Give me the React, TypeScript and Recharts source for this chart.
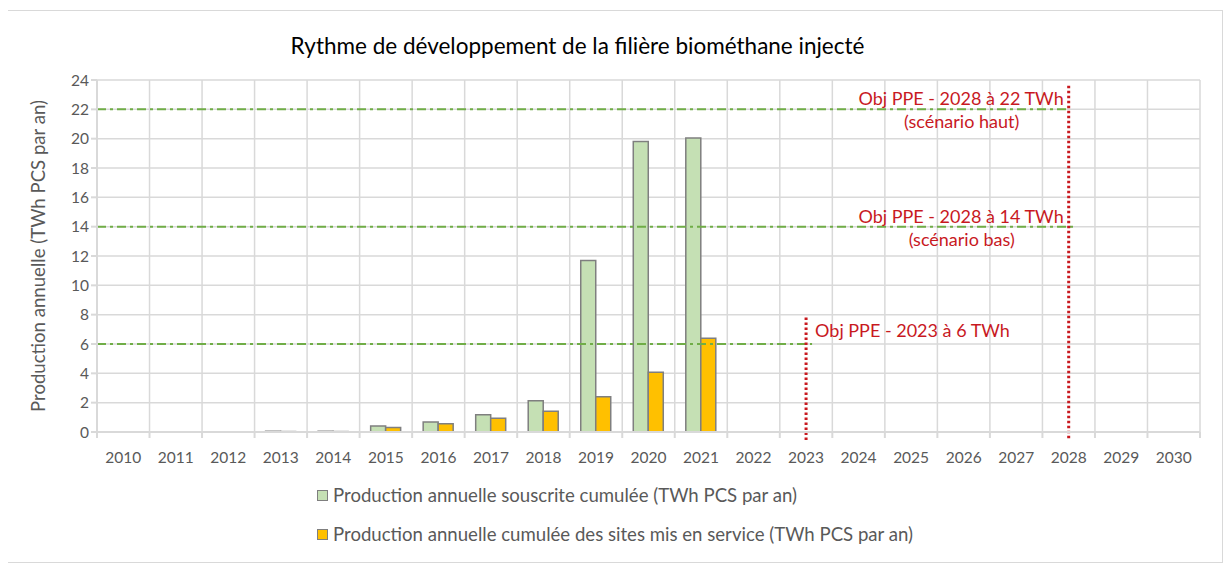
import React from "react";
import {
  BarChart,
  Bar,
  XAxis,
  YAxis,
  CartesianGrid,
  ReferenceLine,
  Legend,
  Label,
} from "recharts";

const years = [
  "2010", "2011", "2012", "2013", "2014", "2015", "2016", "2017", "2018", "2019", "2020",
  "2021", "2022", "2023", "2024", "2025", "2026", "2027", "2028", "2029", "2030",
];
const souscrite = [
  null, null, null, 0.05, 0.05, 0.41, 0.68, 1.18, 2.13, 11.7, 19.8,
  20.05, null, null, null, null, null, null, null, null, null,
];
const enService = [
  null, null, null, 0.03, 0.03, 0.3, 0.57, 0.93, 1.41, 2.41, 4.07,
  6.4, null, null, null, null, null, null, null, null, null,
];
const yTicks = [0, 2, 4, 6, 8, 10, 12, 14, 16, 18, 20, 22, 24];

const seriesNames = [
  "Production annuelle souscrite cumulée (TWh PCS par an)",
  "Production annuelle cumulée des sites mis en service (TWh PCS par an)",
];

const data = years.map((year, i) => ({
  year,
  souscrite: souscrite[i],
  enService: enService[i],
}));

const FONT = "Lato, 'Open Sans', sans-serif";
const GREY = "#595959";
const GRID = "#D9D9D9";
const RED = "#C8191F";
const GREEN_LINE = "#70AD47";

// horizontal objective line, drawn from the plot's left edge to the given year
const ObjLine = (props: any) => {
  const { x1, x2, y1, extraRight, lines, labelPos } = props;
  const band = props.bandCount ? (x2 - x1) / props.bandCount : 0;
  const left = x1 - band / 2;
  const right = x2 + (extraRight || 0);
  return (
    <g>
      <line
        x1={left}
        x2={right}
        y1={y1}
        y2={y1}
        stroke={GREEN_LINE}
        strokeWidth={2}
        strokeDasharray="9 4 3 4"
      />
      {labelPos === "right" ? (
        <text x={x2 + 9} y={y1 - 7} fill={RED} fontSize={18} fontFamily={FONT}>
          {lines[0]}
        </text>
      ) : (
        <g fontFamily={FONT} fontSize={18} fill={RED}>
          <text x={x2 - 5} y={y1 - 4} textAnchor="end">
            {lines[0]}
          </text>
          <text x={x2 - 107} y={y1 + 19} textAnchor="middle">
            {lines[1]}
          </text>
        </g>
      )}
    </g>
  );
};

const DotLine = (props: any) => {
  const { x1, y1, y2 } = props;
  const bottom = Math.max(y1, y2) + 8;
  const top = Math.min(y1, y2);
  return (
    <line
      x1={x1}
      x2={x1}
      y1={top}
      y2={bottom}
      stroke={RED}
      strokeWidth={3}
      strokeDasharray="2.5 2.5"
    />
  );
};

const XTick = (props: any) => {
  const { x, y, payload, index, width, visibleTicksCount } = props;
  const bw = width / visibleTicksCount;
  return (
    <g>
      <line x1={x - bw / 2} x2={x - bw / 2} y1={y - 8} y2={y - 2} stroke={GRID} strokeWidth={2} />
      {index === visibleTicksCount - 1 && (
        <line x1={x + bw / 2} x2={x + bw / 2} y1={y - 8} y2={y - 2} stroke={GRID} strokeWidth={2} />
      )}
      <text x={x} y={y + 23} textAnchor="middle" fill={GREY} fontSize={15.5} fontFamily={FONT}>
        {payload.value}
      </text>
    </g>
  );
};

const LegendContent = () => (
  <div style={{ fontFamily: FONT, fontSize: 18.6, color: GREY, lineHeight: "22px" }}>
    {[
      { name: seriesNames[0], fill: "#C5E0B4" },
      { name: seriesNames[1], fill: "#FFC000" },
    ].map((item, i) => (
      <div key={item.name} style={{ display: "flex", alignItems: "center", marginBottom: i === 0 ? 17 : 0 }}>
        <span
          style={{
            display: "inline-block",
            width: 9,
            height: 9,
            background: item.fill,
            border: "1.5px solid #7F7F7F",
            marginRight: 5,
          }}
        />
        <span>{item.name}</span>
      </div>
    ))}
  </div>
);

export default function App() {
  return (
    <div style={{ position: "relative", margin: -8, width: 1231, height: 573, background: "#fff" }}>
      <div
        style={{
          position: "absolute",
          left: 7,
          top: 10,
          width: 1214,
          height: 551,
          border: "1.5px solid #D9D9D9",
        }}
      />
      <div
        style={{
          position: "absolute",
          left: 0,
          width: 1155,
          top: 32,
          textAlign: "center",
          fontFamily: FONT,
          fontSize: 22.5,
          color: "#000",
        }}
      >
        Rythme de développement de la filière biométhane injecté
      </div>
      <BarChart
        width={1231}
        height={573}
        data={data}
        margin={{ top: 80, right: 31, bottom: 81, left: 0 }}
        barGap={0}
        barCategoryGap="21%"
        style={{ position: "absolute", left: 0, top: 0 }}
      >
        <CartesianGrid
          stroke={GRID}
          strokeWidth={1.5}
          verticalCoordinatesGenerator={({ offset }: any) =>
            years.map((_, i) => offset.left + (i * offset.width) / years.length).concat(offset.left + offset.width)
          }
        />
        <XAxis
          dataKey="year"
          axisLine={{ stroke: GRID, strokeWidth: 2 }}
          tickLine={false}
          interval={0}
          tick={<XTick />}
          height={60}
        />
        <YAxis
          domain={[0, 24]}
          ticks={yTicks}
          interval={0}
          width={97}
          axisLine={{ stroke: GRID, strokeWidth: 2 }}
          tickLine={{ stroke: GRID, strokeWidth: 2 }}
          tickSize={6}
          tick={{ fill: GREY, fontSize: 15.5, fontFamily: FONT }}
        >
          <Label
            content={({ viewBox }: any) => (
              <text
                x={40}
                y={viewBox.y + viewBox.height / 2}
                transform={`rotate(-90 40 ${viewBox.y + viewBox.height / 2})`}
                textAnchor="middle"
                dominantBaseline="middle"
                fill={GREY}
                fontSize={18.6}
                fontFamily={FONT}
              >
                Production annuelle (TWh PCS par an)
              </text>
            )}
          />
        </YAxis>
        <Legend
          layout="horizontal"
          verticalAlign="middle"
          align="center"
          wrapperStyle={{ left: 317, top: 484, width: 800 }}
          content={<LegendContent />}
        />
        <Bar
          dataKey="souscrite"
          name={seriesNames[0]}
          fill="#C5E0B4"
          stroke="#7F7F7F"
          strokeWidth={1.5}
          isAnimationActive={false}
        />
        <Bar
          dataKey="enService"
          name={seriesNames[1]}
          fill="#FFC000"
          stroke="#7F7F7F"
          strokeWidth={1.5}
          isAnimationActive={false}
        />
        <ReferenceLine
          segment={[{ x: "2010", y: 22 }, { x: "2028", y: 22 }]}
          shape={(p: any) => (
            <ObjLine {...p} bandCount={18} lines={["Obj PPE - 2028 à 22 TWh", "(scénario haut)"]} />
          )}
        />
        <ReferenceLine
          segment={[{ x: "2010", y: 14 }, { x: "2028", y: 14 }]}
          shape={(p: any) => (
            <ObjLine
              {...p}
              bandCount={18}
              extraRight={7}
              lines={["Obj PPE - 2028 à 14 TWh", "(scénario bas)"]}
            />
          )}
        />
        <ReferenceLine
          segment={[{ x: "2010", y: 6 }, { x: "2023", y: 6 }]}
          shape={(p: any) => (
            <ObjLine {...p} bandCount={13} extraRight={6} labelPos="right" lines={["Obj PPE - 2023 à 6 TWh"]} />
          )}
        />
        <ReferenceLine segment={[{ x: "2023", y: 0 }, { x: "2023", y: 7.8 }]} shape={(p: any) => <DotLine {...p} />} />
        <ReferenceLine segment={[{ x: "2028", y: 0 }, { x: "2028", y: 23.6 }]} shape={(p: any) => <DotLine {...p} />} />
      </BarChart>
    </div>
  );
}
